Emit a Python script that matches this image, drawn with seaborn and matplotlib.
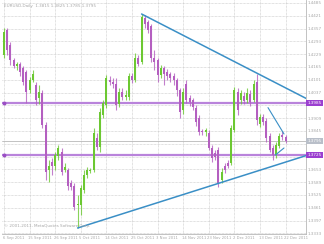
import matplotlib
matplotlib.use("Agg")
import matplotlib.pyplot as plt
import matplotlib.transforms as mtrans
import numpy as np
import pandas as pd
import seaborn as sns

opens = [1.4225,1.4350,1.4275,1.4200,1.4170,1.4180,1.4160,1.4140,1.4050,1.4100,
         1.4075,1.4010,1.4035,1.3875,1.3650,1.3690,1.3670,1.3720,1.3740,1.3650,
         1.3650,1.3585,1.3570,1.3475,1.3475,1.3550,1.3625,1.3645,1.3650,1.3810,
         1.3765,1.3925,1.3975,1.4100,1.4090,1.4080,1.3980,1.4040,1.4015,1.4015,
         1.4120,1.4100,1.4210,1.4190,1.4410,1.4390,1.4370,1.4210,1.4200,1.4125,
         1.4160,1.4140,1.4130,1.4120,1.4100,1.4050,1.3950,1.4080,1.4010,1.4000,
         1.3960,1.3910,1.3845,1.3840,1.3835,1.3760,1.3735,1.3750,1.3600,1.3670,
         1.3685,1.3685,1.3850,1.4040,1.4000,1.4020,1.4000,1.4030,1.4000,1.4090,
         1.3880,1.3915,1.3895,1.3820,1.3760,1.3725,1.3770,1.3825,1.3815]
highs = [1.4360,1.4360,1.4290,1.4210,1.4190,1.4190,1.4170,1.4150,1.4115,1.4150,
         1.4090,1.4075,1.4050,1.3890,1.3700,1.3710,1.3740,1.3775,1.3760,1.3685,
         1.3660,1.3600,1.3585,1.3525,1.3575,1.3650,1.3665,1.3660,1.3860,1.3835,
         1.3960,1.4000,1.4125,1.4120,1.4110,1.4110,1.4060,1.4060,1.4050,1.4135,
         1.4135,1.4235,1.4225,1.4430,1.4425,1.4400,1.4380,1.4250,1.4210,1.4175,
         1.4170,1.4155,1.4140,1.4135,1.4110,1.4060,1.4060,1.4100,1.4025,1.4010,
         1.3975,1.3925,1.3855,1.3860,1.3850,1.3775,1.3750,1.3765,1.3660,1.3685,
         1.3700,1.3875,1.4065,1.4060,1.4050,1.4040,1.4060,1.4050,1.4100,1.4130,
         1.3930,1.3930,1.3910,1.3835,1.3775,1.3790,1.3835,1.3845,1.3825]
lows = [1.4210,1.4225,1.4175,1.4160,1.4150,1.4120,1.4075,1.3985,1.4035,1.4090,
        1.3975,1.3980,1.3860,1.3600,1.3590,1.3625,1.3650,1.3700,1.3625,1.3640,
        1.3550,1.3550,1.3450,1.3360,1.3425,1.3535,1.3610,1.3635,1.3640,1.3750,
        1.3740,1.3910,1.3960,1.4075,1.4060,1.3950,1.3965,1.4000,1.4000,1.4000,
        1.4085,1.4090,1.4170,1.4180,1.4360,1.4335,1.4190,1.4150,1.4090,1.4110,
        1.4075,1.4100,1.4090,1.4075,1.4020,1.3910,1.3930,1.3985,1.3970,1.3950,
        1.3870,1.3825,1.3825,1.3820,1.3750,1.3690,1.3700,1.3565,1.3585,1.3635,
        1.3660,1.3675,1.3840,1.3925,1.3980,1.3980,1.3985,1.3970,1.3990,1.3875,
        1.3865,1.3875,1.3790,1.3740,1.3700,1.3710,1.3760,1.3800,1.3785]
closes = [1.4340,1.4250,1.4200,1.4170,1.4180,1.4140,1.4090,1.4040,1.4100,1.4130,
          1.4000,1.4040,1.3875,1.3640,1.3670,1.3670,1.3725,1.3760,1.3640,1.3665,
          1.3570,1.3565,1.3465,1.3480,1.3560,1.3625,1.3650,1.3650,1.3835,1.3765,
          1.3940,1.3985,1.4110,1.4090,1.4080,1.3975,1.4040,1.4015,1.4025,1.4120,
          1.4100,1.4210,1.4180,1.4415,1.4380,1.4350,1.4210,1.4190,1.4125,1.4160,
          1.4130,1.4120,1.4110,1.4100,1.4050,1.3940,1.4040,1.4000,1.3990,1.3965,
          1.3890,1.3840,1.3840,1.3850,1.3760,1.3710,1.3715,1.3580,1.3640,1.3650,
          1.3670,1.3860,1.4050,1.3950,1.4035,1.3995,1.4035,1.3990,1.4080,1.3900,
          1.3915,1.3890,1.3810,1.3750,1.3725,1.3775,1.3820,1.3815,1.3795]

date_labels = ["6 Sep 2011", "15 Sep 2011", "26 Sep 2011", "5 Oct 2011",
               "14 Oct 2011", "25 Oct 2011", "3 Nov 2011", "14 Nov 2011",
               "23 Nov 2011", "2 Dec 2011", "13 Dec 2011", "22 Dec 2011"]

# trend lines (index, price)
trend_upper_x = [43, 94.4]
trend_upper_y = [1.4430, 1.4008]
trend_lower_x = [23, 94.4]
trend_lower_y = [1.3360, 1.3722]
wedge_a_x = [82.5, 87.5]
wedge_a_y = [1.3962, 1.3830]
wedge_b_x = [84.8, 87.5]
wedge_b_y = [1.3725, 1.3760]

level_lines = [1.3985, 1.3725]

sns.set_style("white")
plt.rcParams['font.family'] = ['DejaVu Sans']

GREEN = "#6cc832"
PURPLE = "#b45fc0"
LEVEL = "#b983db"
BLUE = "#3a8fc6"
GRID = "#c4c4c4"
TXT = "#a8a8a8"

df = pd.DataFrame({"o": opens, "h": highs, "l": lows, "c": closes})
df["i"] = np.arange(len(df))
up = df["c"] >= df["o"]
df["col"] = np.where(up, GREEN, PURPLE)

fig = plt.figure(figsize=(3.24, 2.44), dpi=100)
ax = fig.add_axes([2/324, 10/244, 304/324, 234/244])
ax.set_xlim(-0.625, 94.375)
ax.set_ylim(1.3330, 1.4500)

last = closes[-1]
boxed = level_lines + [last]
yt = np.arange(1.4485, 1.3325, -0.0064)
ax.set_yticks(yt)
ax.set_yticklabels(["" if min(abs(v - b) for b in boxed) < 0.0018 else f"{v:.4f}" for v in yt])
xt = np.arange(0, len(date_labels) * 8, 8)
ax.set_xticks(xt)
ax.set_xticklabels(date_labels, ha="left")
ax.yaxis.tick_right()
ax.tick_params(axis="y", length=0, pad=1.5, labelsize=3, labelcolor=TXT)
ax.tick_params(axis="x", length=0, pad=1.5, labelsize=2.7, labelcolor=TXT)
offset = mtrans.ScaledTranslation(-1.0/72, 0, fig.dpi_scale_trans)
for lab in ax.get_xticklabels():
    lab.set_transform(lab.get_transform() + offset)

ax.grid(True, color=GRID, linestyle=(0, (1, 1)), linewidth=0.5)
ax.set_axisbelow(True)
for s in ["top", "left"]:
    ax.spines[s].set_visible(False)
for s in ["right", "bottom"]:
    ax.spines[s].set_color("#b8b8b8")
    ax.spines[s].set_linewidth(0.6)

# level lines
for lv in level_lines:
    ax.axhline(lv, color=LEVEL, linewidth=1.6, zorder=2)
    ax.plot([0.0], [lv], marker="o", markersize=1.8, color="#9a4fc4", zorder=3, clip_on=False)

# last price line
ax.axhline(last, color="#b8b8b8", linewidth=0.6, zorder=2)

# candles
ax.vlines(df["i"], df["l"], df["h"], colors=df["col"], linewidth=0.8, zorder=3, alpha=0.8)
body_h = (df["c"] - df["o"]).abs().clip(lower=0.0004)
ax.bar(df["i"], body_h, bottom=df[["o", "c"]].min(axis=1), width=0.65,
       color=df["col"], linewidth=0, zorder=4)

# trend lines via seaborn
for xs, ys, lw in [(trend_upper_x, trend_upper_y, 1.1), (trend_lower_x, trend_lower_y, 1.1),
                   (wedge_a_x, wedge_a_y, 0.8), (wedge_b_x, wedge_b_y, 0.8)]:
    sns.lineplot(x=xs, y=ys, ax=ax, color=BLUE, linewidth=lw, zorder=5)

ax.set_xlabel("")
ax.set_ylabel("")

# price labels on the right
tr = mtrans.blended_transform_factory(ax.transAxes, ax.transData)
for lv in level_lines:
    ax.text(1.004, lv, f"{lv:.4f}", transform=tr, fontsize=3, color="white",
            va="center", ha="left", clip_on=False, zorder=10,
            bbox=dict(boxstyle="square,pad=0.25", fc="#9b3fd0", ec="none"))
ax.text(1.004, last, f"{last:.4f}", transform=tr, fontsize=3, color="white",
        va="center", ha="left", clip_on=False, zorder=10,
        bbox=dict(boxstyle="square,pad=0.25", fc="#b9bfc9", ec="none"))

fig.text(4/324, 1 - 6/244, "EURUSD,Daily  1.3815 1.3825 1.3785 1.3795",
         fontsize=3, color=TXT, va="center", ha="left")
fig.text(4/324, 1 - 226/244, "© 2001-2011, MetaQuotes Software Corp.",
         fontsize=3, color=TXT, va="center", ha="left")

fig.savefig("out.png", dpi=100)
